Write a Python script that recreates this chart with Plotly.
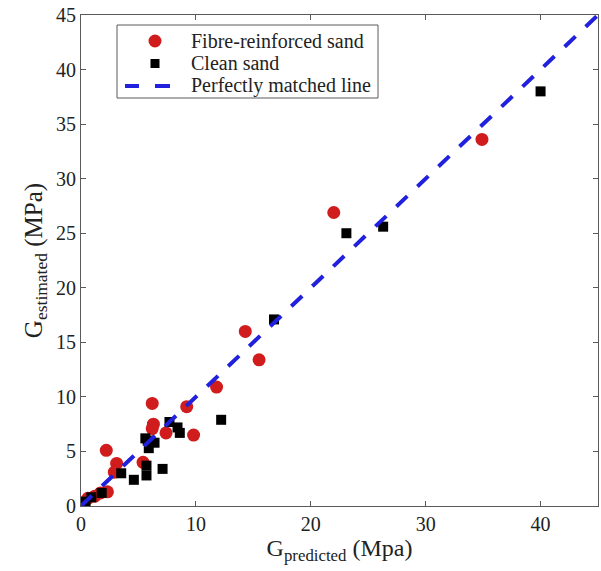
import plotly.graph_objects as go

# Fibre-reinforced sand
fibre_x = [34.9, 22.0, 14.3, 15.5, 11.8, 9.2, 6.2, 6.3, 6.2, 7.4, 9.8, 2.2, 3.1, 2.9, 5.4, 2.3, 1.7, 1.2, 0.6, 0.2]
fibre_y = [33.6, 26.9, 16.0, 13.4, 10.9, 9.1, 9.4, 7.5, 7.1, 6.7, 6.5, 5.1, 3.9, 3.1, 4.0, 1.3, 1.2, 0.9, 0.7, 0.3]

# Clean sand
clean_x = [40.0, 26.3, 23.1, 16.8, 12.2, 7.7, 8.4, 8.6, 5.6, 5.8, 6.4, 5.9, 5.7, 7.1, 5.7, 4.6, 3.5, 1.8, 0.9, 0.4, 0.2]
clean_y = [38.0, 25.6, 25.0, 17.1, 7.9, 7.7, 7.2, 6.7, 6.2, 6.0, 5.8, 5.3, 3.7, 3.4, 2.8, 2.4, 3.0, 1.2, 0.8, 0.4, 0.2]

# Perfectly matched line
line_x = [0, 45]
line_y = [0, 45]

tick_vals_x = [0, 10, 20, 30, 40]
tick_vals_y = [0, 5, 10, 15, 20, 25, 30, 35, 40, 45]

legend_labels = ["Fibre-reinforced sand", "Clean sand", "Perfectly matched line"]

FONT = "Liberation Serif, Times New Roman, Times, serif"
RED = "#d01c1c"
BLUE = "#2020dd"

fig = go.Figure()
fig.add_trace(go.Scatter(
    x=fibre_x, y=fibre_y, mode="markers", name=legend_labels[0],
    marker=dict(symbol="circle", size=13, color=RED, line=dict(width=0)),
    showlegend=False,
))
fig.add_trace(go.Scatter(
    x=clean_x, y=clean_y, mode="markers", name=legend_labels[1],
    marker=dict(symbol="square", size=10, color="#000000", line=dict(width=0)),
    showlegend=False,
))
fig.add_trace(go.Scatter(
    x=line_x, y=line_y, mode="lines", name=legend_labels[2],
    line=dict(color=BLUE, width=4, dash="15px,14px"),
    showlegend=False,
))

axis_common = dict(
    showgrid=False, zeroline=False, showline=True, linecolor="#5a5a5a", linewidth=1,
    mirror="ticks", ticks="inside", ticklen=5, tickcolor="#5a5a5a",
    tickfont=dict(family=FONT, size=20, color="#222222"),
    ticklabeloverflow="allow",
)

# plot area geometry (page px; body margin removed below)
PL, PR, PT, PB = 81, 598, 15, 506
W, H = 601, 571
def px(xp):
    return (xp - PL) / (PR - PL)
def py(yp):
    return 1 - (yp - PT) / (PB - PT)

# hand-built legend
box = dict(x0=117, x1=378, y0=25, y1=98)
rows = [41, 63.5, 86]
sym_x = 155
text_x = 189

shapes = [
    dict(type="rect", xref="paper", yref="paper",
         x0=px(box["x0"]), x1=px(box["x1"]), y0=py(box["y1"]), y1=py(box["y0"]),
         line=dict(color="#5a5a5a", width=1), fillcolor="white", layer="above"),
    dict(type="circle", xref="paper", yref="paper", xsizemode="pixel", ysizemode="pixel",
         xanchor=px(sym_x), yanchor=py(rows[0]), x0=-6.5, x1=6.5, y0=-6.5, y1=6.5,
         fillcolor=RED, line=dict(width=0), layer="above"),
    dict(type="rect", xref="paper", yref="paper", xsizemode="pixel", ysizemode="pixel",
         xanchor=px(sym_x), yanchor=py(rows[1]), x0=-4.5, x1=4.5, y0=-4.5, y1=4.5,
         fillcolor="#000000", line=dict(width=0), layer="above"),
    dict(type="line", xref="paper", yref="paper",
         x0=px(125), x1=px(139), y0=py(rows[2]), y1=py(rows[2]),
         line=dict(color=BLUE, width=4), layer="above"),
    dict(type="line", xref="paper", yref="paper",
         x0=px(155), x1=px(170), y0=py(rows[2]), y1=py(rows[2]),
         line=dict(color=BLUE, width=4), layer="above"),
]

annotations = [
    dict(text=lab, xref="paper", yref="paper", x=px(text_x), y=py(r),
         xanchor="left", yanchor="middle", showarrow=False,
         font=dict(family=FONT, size=20, color="#222222"))
    for lab, r in zip(legend_labels, rows)
]

fig.update_layout(
    width=W, height=H,
    margin=dict(l=PL, r=W - PR, t=PT, b=H - PB, autoexpand=False),
    paper_bgcolor="white", plot_bgcolor="white",
    font=dict(family=FONT, color="#222222"),
    xaxis=dict(range=[0, 45], tickvals=tick_vals_x,
               title=dict(text="G<sub>predicted</sub> (Mpa)", font=dict(family=FONT, size=24), standoff=4),
               **axis_common),
    yaxis=dict(range=[0, 45], tickvals=tick_vals_y,
               title=dict(text="G<sub>estimated</sub> (MPa)", font=dict(family=FONT, size=25), standoff=6),
               **axis_common),
    shapes=shapes,
    annotations=annotations,
    showlegend=False,
)

fig.write_html("out.html", config={"displayModeBar": False},
               post_script="document.body.style.margin='0';document.body.style.overflow='hidden';")
